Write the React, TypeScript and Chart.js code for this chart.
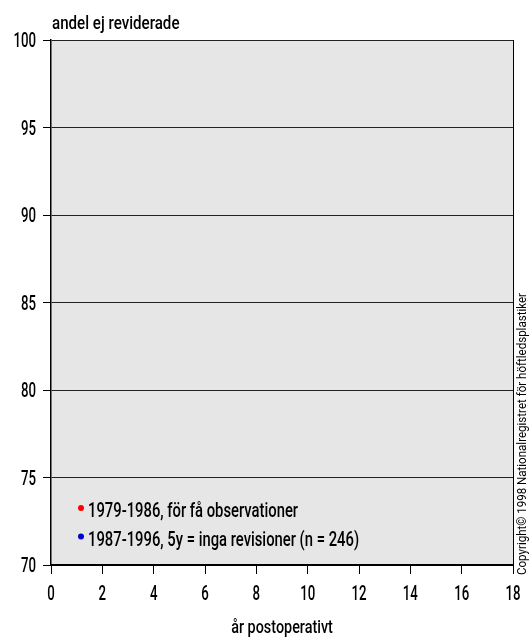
import React, { useEffect, useRef } from "react";
import { Chart, registerables } from "chart.js";

Chart.register(...registerables);

const yAxisTitle = "andel ej reviderade";
const xAxisTitle = "år postoperativt";
const copyrightText = "Copyright© 1998 Nationalregistret för höftledsplastiker";
const xMin = 0;
const xMax = 18;
const xStep = 2;
const yMin = 70;
const yMax = 100;
const yStep = 5;
const seriesLabels = ["1979-1986, för få observationer", "1987-1996, 5y = inga revisioner (n = 246)"];
const seriesColors = ["#ff0000", "#0000cc"];
const series1979: { x: number; y: number }[] = [];
const series1987: { x: number; y: number }[] = [];

const FONT = "Roboto, 'Liberation Sans', Arial, sans-serif";

function drawText(
  ctx: CanvasRenderingContext2D,
  text: string,
  x: number,
  y: number,
  size: number,
  sx: number,
  align: CanvasTextAlign,
  baseline: CanvasTextBaseline
) {
  ctx.save();
  ctx.font = `500 ${size}px ${FONT}`;
  ctx.fillStyle = "#000";
  ctx.textAlign = align;
  ctx.textBaseline = baseline;
  ctx.translate(x, y);
  ctx.scale(sx, 1);
  ctx.fillText(text, 0, 0);
  ctx.restore();
}

const extrasPlugin = {
  id: "extras",
  beforeDraw(chart: any) {
    const { ctx, chartArea } = chart;
    ctx.save();
    ctx.fillStyle = "#e6e6e6";
    ctx.fillRect(chartArea.left, chartArea.top, chartArea.right - chartArea.left, chartArea.bottom - chartArea.top);
    ctx.restore();
  },
  afterDraw(chart: any) {
    const { ctx, chartArea } = chart;
    const xs = chart.scales.x;
    const ys = chart.scales.y;
    // tick labels (condensed)
    ys.ticks.forEach((t: any) => {
      const py = ys.getPixelForValue(t.value);
      drawText(ctx, String(t.value), chartArea.left - 15, py + 7, 21, 0.63, "right", "alphabetic");
    });
    xs.ticks.forEach((t: any) => {
      const px = xs.getPixelForValue(t.value);
      drawText(ctx, String(t.value), px, chartArea.bottom + 35, 21, 0.63, "center", "alphabetic");
    });
    // axis titles
    drawText(ctx, yAxisTitle, chartArea.left + 1, chartArea.top - 11, 18, 0.84, "left", "alphabetic");
    drawText(ctx, xAxisTitle, (chartArea.left + chartArea.right) / 2, chartArea.bottom + 68, 18, 0.8, "center", "alphabetic");
    // legend inside plot
    chart.data.datasets.forEach((ds: any, i: number) => {
      const y = chartArea.bottom - 57 + i * 28.5;
      const x = chartArea.left + 30;
      ctx.save();
      ctx.beginPath();
      ctx.fillStyle = ds.backgroundColor;
      ctx.arc(x, y, 3, 0, Math.PI * 2);
      ctx.fill();
      ctx.restore();
      drawText(ctx, ds.label, x + 7, y + 9, 20, 0.74, "left", "alphabetic");
    });
    // copyright vertical
    ctx.save();
    ctx.translate(chartArea.right + 10, chartArea.bottom + 10);
    ctx.rotate(-Math.PI / 2);
    ctx.font = `13px ${FONT}`;
    ctx.fillStyle = "#000";
    ctx.textAlign = "left";
    ctx.textBaseline = "middle";
    ctx.fillText(copyrightText, 0, 0, 282);
    ctx.restore();
  },
};

export default function App() {
  const canvasRef = useRef<HTMLCanvasElement | null>(null);

  useEffect(() => {
    if (!canvasRef.current) return;
    const chart = new Chart(canvasRef.current, {
      type: "scatter",
      data: {
        datasets: [
          {
            label: seriesLabels[0],
            data: series1979,
            backgroundColor: seriesColors[0],
            borderColor: seriesColors[0],
          },
          {
            label: seriesLabels[1],
            data: series1987,
            backgroundColor: seriesColors[1],
            borderColor: seriesColors[1],
          },
        ],
      },
      options: {
        animation: false,
        responsive: false,
        maintainAspectRatio: false,
        layout: { padding: { top: 40, left: 0, right: 16, bottom: 0 } },
        plugins: {
          legend: { display: false },
          tooltip: { enabled: false },
        },
        scales: {
          x: {
            type: "linear",
            min: xMin,
            max: xMax,
            afterFit: (scale: any) => {
              scale.height = 77;
            },
            ticks: {
              stepSize: xStep,
              display: false,
            },
            grid: {
              drawOnChartArea: true,
              color: (c: any) => (c.tick && c.tick.value === xMax ? "#000" : "rgba(0,0,0,0)"),
              tickColor: "#000",
              tickLength: 9,
              lineWidth: 1,
            },
            border: { display: true, color: "#000", width: 2 },
          },
          y: {
            type: "linear",
            min: yMin,
            max: yMax,
            afterFit: (scale: any) => {
              scale.width = 51;
            },
            ticks: {
              stepSize: yStep,
              display: false,
            },
            grid: {
              color: "#222",
              tickColor: "#000",
              tickLength: 8,
              lineWidth: 1,
            },
            border: { display: true, color: "#000", width: 1.5 },
          },
        },
      },
      plugins: [extrasPlugin],
    } as any);
    return () => chart.destroy();
  }, []);

  return (
    <div style={{ position: "fixed", left: 0, top: 0, width: 529, height: 642, background: "#fff" }}>
      <canvas ref={canvasRef} width={529} height={642} style={{ width: 529, height: 642, display: "block" }} />
    </div>
  );
}
